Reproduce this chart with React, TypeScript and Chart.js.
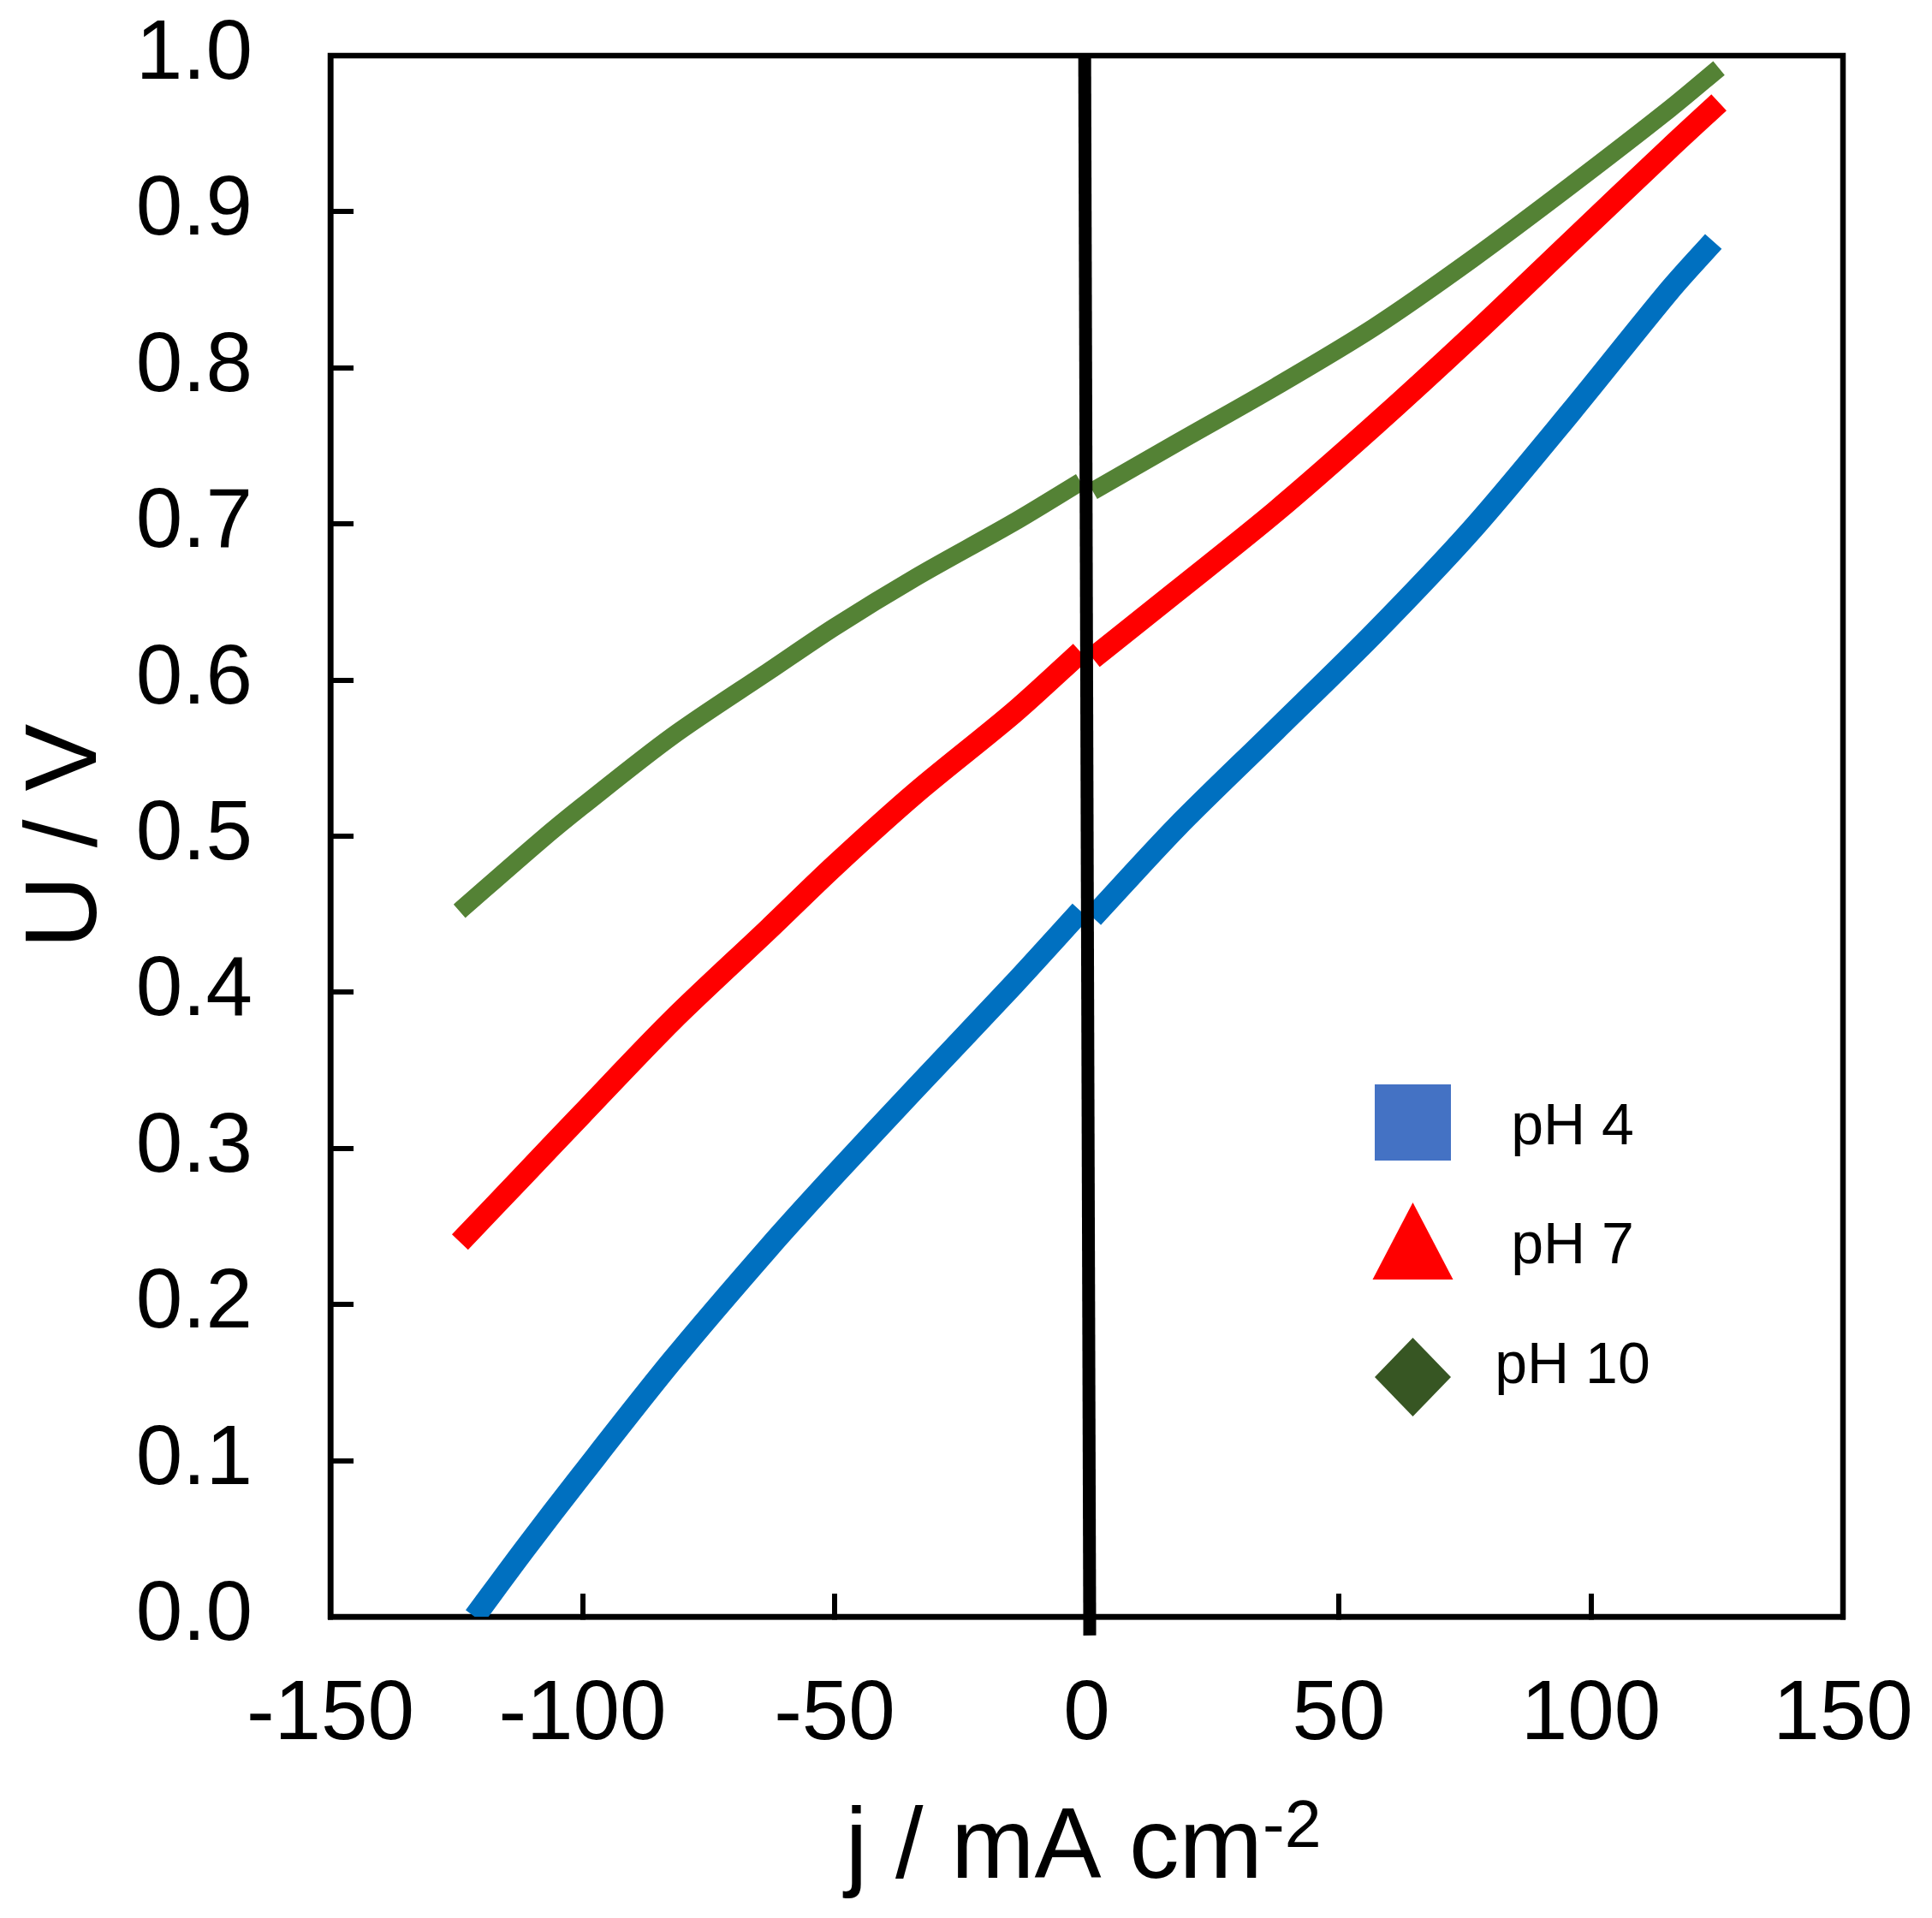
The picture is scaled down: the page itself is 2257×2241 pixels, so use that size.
import React, { useEffect, useRef } from "react";
import { Chart, registerables } from "chart.js";

Chart.register(...registerables);

const FONT = "'Liberation Sans', Arial, sans-serif";

const seriesLabels = ["pH 4", "pH 7", "pH 10"];
const lineColors = ["#0070C0", "#FF0000", "#548235"];
const lineWidths = [26, 26, 21];
const legendColors = ["#4472C4", "#FF0000", "#375623"];
const legendShapes = ["square", "triangle", "diamond"];

// Each series: negative-current branch, then positive-current branch (a break at j = 0)
const pH4J = [-121.4, -111.3, -100.1, -82.2, -62.9, -50.0, -33.8, -14.5, -1.2, 1.2, 17.9, 37.5, 57.0, 76.6, 96.1, 115.7, 124.3];
const pH4U = [0.0, 0.044, 0.091, 0.164, 0.237, 0.283, 0.339, 0.405, 0.452, 0.448, 0.506, 0.568, 0.63, 0.697, 0.772, 0.85, 0.881];
const pH7J = [-124.3, -111.3, -100.1, -82.2, -62.9, -50.0, -33.8, -14.5, -1.2, 1.2, 17.9, 37.5, 57.0, 76.6, 96.1, 115.7, 125.4];
const pH7U = [0.24, 0.284, 0.322, 0.382, 0.441, 0.481, 0.528, 0.579, 0.618, 0.614, 0.657, 0.708, 0.763, 0.821, 0.881, 0.941, 0.97];
const pH10J = [-124.4, -108.4, -100.1, -82.2, -62.9, -50.0, -33.8, -14.5, -1.2, 1.2, 17.9, 37.5, 57.0, 76.6, 96.1, 115.7, 125.4];
const pH10U = [0.452, 0.497, 0.519, 0.564, 0.606, 0.634, 0.666, 0.701, 0.727, 0.721, 0.752, 0.788, 0.826, 0.87, 0.917, 0.966, 0.992];

const zeroLineJ = [-0.4, 0.6];
const zeroLineU = [1.0, -0.012];

const xTickValues = [-150, -100, -50, 0, 50, 100, 150];
const yTickValues = [0, 0.1, 0.2, 0.3, 0.4, 0.5, 0.6, 0.7, 0.8, 0.9, 1.0];

const xTitleMain = "j / mA cm";
const xTitleSup = "-2";
const yTitle = "U / V";

const zip = (xs: number[], ys: number[]) => xs.map((x, i) => ({ x, y: ys[i] }));

// split into two branches with a gap where the current changes sign
const withBreak = (xs: number[], ys: number[]) => {
  const out: any[] = [];
  xs.forEach((x, i) => {
    if (i > 0 && xs[i - 1] < 0 && x > 0) out.push({ x: 0, y: null });
    out.push({ x, y: ys[i] });
  });
  return out;
};

const seriesJ = [pH4J, pH7J, pH10J];
const seriesU = [pH4U, pH7U, pH10U];

const decorPlugin = {
  id: "decor",
  beforeDatasetsDraw(chart: any) {
    const { ctx, chartArea: a } = chart;
    ctx.save();
    ctx.strokeStyle = "#000";
    ctx.lineWidth = 6.5;
    ctx.strokeRect(a.left, a.top, a.right - a.left, a.bottom - a.top);
    ctx.restore();
  },
  afterDraw(chart: any) {
    const { ctx, chartArea: a } = chart;
    ctx.save();
    ctx.fillStyle = "#000";
    // x axis title with superscript
    const mainFont = `117px ${FONT}`;
    const supFont = `77px ${FONT}`;
    ctx.font = mainFont;
    const w1 = ctx.measureText(xTitleMain).width;
    ctx.font = supFont;
    const w2 = ctx.measureText(xTitleSup).width;
    const cx = (a.left + a.right) / 2 - 4;
    const x0 = cx - (w1 + w2) / 2;
    const baseY = a.bottom + 305;
    ctx.textAlign = "left";
    ctx.textBaseline = "alphabetic";
    ctx.font = mainFont;
    ctx.fillText(xTitleMain, x0, baseY);
    ctx.font = supFont;
    ctx.fillText(xTitleSup, x0 + w1, baseY - 36);

    // legend
    const iconCx = a.left + 1264.5;
    const textCx = a.left + 1451;
    const iconCy = [1246.5, 1385, 1544];
    const textBase = [1272, 1411, 1551];
    ctx.font = `68px ${FONT}`;
    ctx.textAlign = "center";
    seriesLabels.forEach((label, i) => {
      const cy = a.top + iconCy[i];
      ctx.fillStyle = legendColors[i];
      ctx.beginPath();
      if (legendShapes[i] === "square") {
        ctx.rect(iconCx - 44.5, cy - 44.5, 89, 89);
      } else if (legendShapes[i] === "triangle") {
        ctx.moveTo(iconCx, cy - 45);
        ctx.lineTo(iconCx + 47, cy + 45);
        ctx.lineTo(iconCx - 47, cy + 45);
        ctx.closePath();
      } else {
        ctx.moveTo(iconCx, cy - 46);
        ctx.lineTo(iconCx + 44.5, cy);
        ctx.lineTo(iconCx, cy + 46);
        ctx.lineTo(iconCx - 44.5, cy);
        ctx.closePath();
      }
      ctx.fill();
      ctx.fillStyle = "#000";
      ctx.fillText(label, textCx, a.top + textBase[i]);
    });
    ctx.restore();
  },
};

const zeroPadding = (s: any) => {
  s.paddingTop = 0;
  s.paddingBottom = 0;
  s.paddingLeft = 0;
  s.paddingRight = 0;
};

export default function App() {
  const ref = useRef<HTMLCanvasElement>(null);

  useEffect(() => {
    const canvas = ref.current;
    if (!canvas) return;

    const datasets: any[] = [
      {
        label: "zero",
        data: zip(zeroLineJ, zeroLineU),
        showLine: true,
        borderColor: "#000",
        borderWidth: 15,
        pointRadius: 0,
        borderCapStyle: "butt",
        clip: false,
        order: 0,
      },
      ...seriesLabels.map((label, i) => ({
        label,
        data: withBreak(seriesJ[i], seriesU[i]),
        showLine: true,
        spanGaps: false,
        borderColor: lineColors[i],
        backgroundColor: lineColors[i],
        borderWidth: lineWidths[i],
        pointRadius: 0,
        tension: 0.3,
        borderCapStyle: "butt",
        borderJoinStyle: "round",
        order: 1,
      })),
    ];

    const gridOpts = {
      display: true,
      drawOnChartArea: false,
      drawTicks: true,
      tickLength: -27,
      tickWidth: 6,
      tickColor: "#000",
      color: "#000",
      lineWidth: 6,
    };

    const chart = new Chart(canvas, {
      type: "scatter",
      data: { datasets },
      options: {
        animation: false,
        responsive: false,
        devicePixelRatio: 1,
        layout: { padding: { top: 65, right: 104, left: 0, bottom: 0 } },
        plugins: {
          legend: { display: false },
          tooltip: { enabled: false },
          title: { display: false },
        },
        scales: {
          x: {
            type: "linear",
            position: "bottom",
            min: -150,
            max: 150,
            afterFit: (s: any) => {
              s.height = 352;
              zeroPadding(s);
            },
            afterBuildTicks: (s: any) => {
              s.ticks = xTickValues.map((v) => ({ value: v }));
            },
            ticks: {
              color: "#000",
              font: { family: FONT, size: 98 },
              padding: 84,
              maxRotation: 0,
              autoSkip: false,
              callback: (v: any) => String(v),
            },
            grid: gridOpts,
            border: { display: true, color: "#000", width: 6.5 },
            title: { display: false },
          },
          y: {
            type: "linear",
            position: "left",
            min: 0,
            max: 1,
            afterFit: (s: any) => {
              s.width = 386;
              zeroPadding(s);
            },
            afterBuildTicks: (s: any) => {
              s.ticks = yTickValues.map((v) => ({ value: v }));
            },
            ticks: {
              color: "#000",
              font: { family: FONT, size: 98 },
              padding: 118,
              autoSkip: false,
              callback: (v: any) => Number(v).toFixed(1),
            },
            grid: gridOpts,
            border: { display: true, color: "#000", width: 6.5 },
            title: {
              display: true,
              text: yTitle,
              color: "#000",
              font: { family: FONT, size: 118 },
              padding: { top: 9, bottom: 0 },
            },
          },
        },
      } as any,
      plugins: [decorPlugin],
    });

    return () => chart.destroy();
  }, []);

  return (
    <div
      style={{
        position: "absolute",
        left: 0,
        top: 0,
        width: 2257,
        height: 2241,
        background: "#fff",
      }}
    >
      <canvas
        ref={ref}
        width={2257}
        height={2241}
        style={{ width: 2257, height: 2241, display: "block" }}
      />
    </div>
  );
}
